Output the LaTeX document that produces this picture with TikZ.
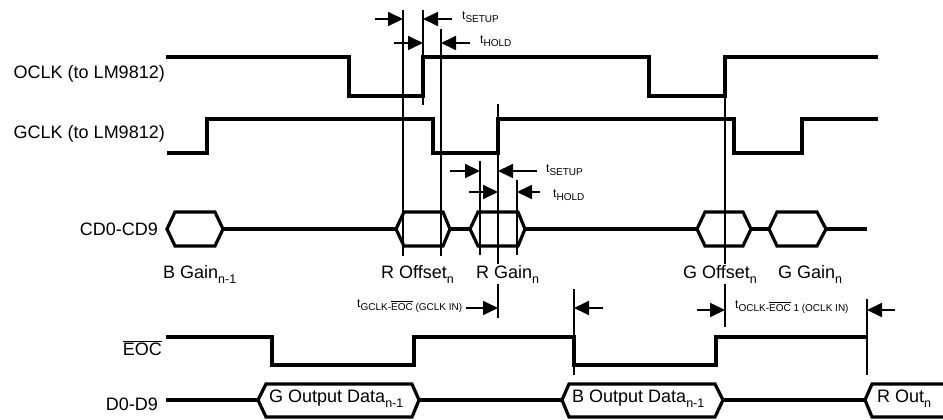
\documentclass[tikz,border=0pt]{standalone}
\usepackage{fontspec}
\setmainfont{Liberation Sans}
\usetikzlibrary{arrows.meta}
\newcommand\sbs[1]{\raisebox{-5pt}{\fontsize{12.5}{13}\selectfont #1}}
\newcommand\tsb[1]{\raisebox{-3pt}{\fontsize{10}{11}\selectfont #1}}
\newcommand\ovl[1]{$\overline{\hbox{#1}}$}
\begin{document}
\begin{tikzpicture}[x=1pt,y=-1pt,
  sig/.style={line width=3.2pt},
  guide/.style={line width=1.8pt},
  eguide/.style={line width=2.6pt},
  dim/.style={line width=1.8pt,-{Triangle[length=15pt,width=14pt]}},
  lbl/.style={font=\fontsize{18}{20}\selectfont,inner sep=0pt},
  llbl/.style={lbl,anchor=base east},
  blbl/.style={lbl,fill=white,inner sep=1pt,anchor=base west},
  dlbl/.style={lbl,anchor=base west},
  tlbl/.style={font=\fontsize{12}{13}\selectfont,inner sep=0pt,anchor=base west}]
\useasboundingbox (0,0) rectangle (943,420);
% guide lines
\draw[guide] (403,10) coordinate (g1t) -- (403,256) coordinate (g1b);
\draw[guide] (423,10) coordinate (g2t) -- (423,105) coordinate (g2b);
\draw[guide] (441,29) coordinate (g3t) -- (441,256) coordinate (g3b);
\draw[guide] (480,161) coordinate (g4t) -- (480,255) coordinate (g4b);
\draw[guide] (498,104) coordinate (g5t) -- (498,318) coordinate (g5b);
\draw[guide] (517,180) coordinate (g6t) -- (517,255) coordinate (g6b);
\draw[eguide] (574,289) coordinate (g7t) -- (574,375) coordinate (g7b);
\draw[guide] (725,57) coordinate (g8t) -- (725,327) coordinate (g8b);
\draw[eguide] (867,299) coordinate (g9t) -- (867,375) coordinate (g9b);
% OCLK
\draw[sig] (166,57) -- (349,57) -- (349,96) -- (423,96) -- (423,57) -- (649,57) -- (649,96) -- (725,96) -- (725,57) -- (878,57);
% GCLK
\draw[sig] (167,153) -- (207,153) -- (207,119) -- (433,119) -- (433,153) -- (498,153) -- (498,119) -- (734,119) -- (734,153) -- (802,153) -- (802,119) -- (878,119);
% CD0-CD9 bus
\draw[sig] (167,229) -- (175,212) -- (215,212) -- (223,229) -- (215,246) -- (175,246) -- cycle;
\draw[sig] (223,229) -- (396,229);
\draw[sig] (396,229) -- (404,212) -- (443,212) -- (450,229) -- (443,246) -- (404,246) -- cycle;
\draw[sig] (450,229) -- (470,229);
\draw[sig] (470,229) -- (478,212) -- (518,212) -- (525,229) -- (518,246) -- (478,246) -- cycle;
\draw[sig] (525,229) -- (697,229);
\draw[sig] (697,229) -- (705,212) -- (743,212) -- (751,229) -- (743,246) -- (705,246) -- cycle;
\draw[sig] (751,229) -- (769,229);
\draw[sig] (769,229) -- (777,212) -- (817,212) -- (826,229) -- (817,246) -- (777,246) -- cycle;
\draw[sig] (826,229) -- (867,229);
% EOC
\draw[sig] (166,337) -- (272,337) -- (272,365) -- (414,365) -- (414,337) -- (574,337) -- (574,365) -- (716,365) -- (716,337) -- (867,337);
% D0-D9 bus
\draw[sig] (166,400) -- (258,400);
\draw[sig] (258,400) -- (266,384) -- (412,384) -- (419,400) -- (412,417) -- (266,417) -- cycle;
\draw[sig] (419,400) -- (562,400);
\draw[sig] (562,400) -- (569,384) -- (715,384) -- (723,400) -- (715,417) -- (569,417) -- cycle;
\draw[sig] (723,400) -- (865,400);
\draw[sig] (946,384) -- (872,384) -- (865,400) -- (872,417) -- (946,417);
% dimension arrows
\draw[dim] (375,19) -- (g1t |- 0,19);
\draw[dim] (452,19) -- (g2t |- 0,19);
\draw[dim] (394,43) -- (g2t |- 0,43);
\draw[dim] (470,43) -- (g3t |- 0,43);
\draw[dim] (450,171) -- (g4t |- 0,171);
\draw[dim] (537,171) -- (g5t |- 0,171);
\draw[dim] (469,192) -- (g5t |- 0,192);
\draw[dim] (540,192) -- (g6t |- 0,192);
\draw[dim] (466,308) -- (g5t |- 0,308);
\draw[dim] (603,308) -- (g7t |- 0,308);
\draw[dim] (697,310) -- (g8t |- 0,310);
\draw[dim] (895,310) -- (g9t |- 0,310);
% timing labels
\node[tlbl] (ts1) at (462,20) {t\tsb{SETUP}};
\node[tlbl] (th1) at (480,44) {t\tsb{HOLD}};
\node[tlbl] (ts2) at (546,172) {t\tsb{SETUP}};
\node[tlbl] (th2) at (553,197) {t\tsb{HOLD}};
\node[tlbl] (tge) at (357,307) {t\tsb{GCLK-\ovl{EOC} (GCLK IN)}};
\node[tlbl] (toe) at (735,308) {t\tsb{OCLK-\ovl{EOC} 1 (OCLK IN)}};
% signal names
\node[llbl] (noclk) at (165,78) {OCLK (to LM9812)};
\node[llbl] (ngclk) at (165,139) {GCLK (to LM9812)};
\node[llbl] (ncd) at (158,235) {CD0-CD9};
\node[llbl] (neoc) at (162,355) {\ovl{EOC}};
\node[llbl] (nd) at (158,410) {D0-D9};
% bus value labels
\node[blbl] (bg) at (162,278) {B Gain\sbs{n-1}};
\node[blbl] (ro) at (380,278) {R Offset\sbs{n}};
\node[blbl] (rg) at (475,278) {R Gain\sbs{n}};
\node[blbl] (go) at (682,278) {G Offset\sbs{n}};
\node[blbl] (gg) at (777,278) {G Gain\sbs{n}};
\node[dlbl] (god) at (269,402) {G Output Data\sbs{n-1}};
\node[dlbl] (bod) at (572,402) {B Output Data\sbs{n-1}};
\node[dlbl] (ro2) at (877,402) {R Out\sbs{n}};
\end{tikzpicture}
\end{document}
